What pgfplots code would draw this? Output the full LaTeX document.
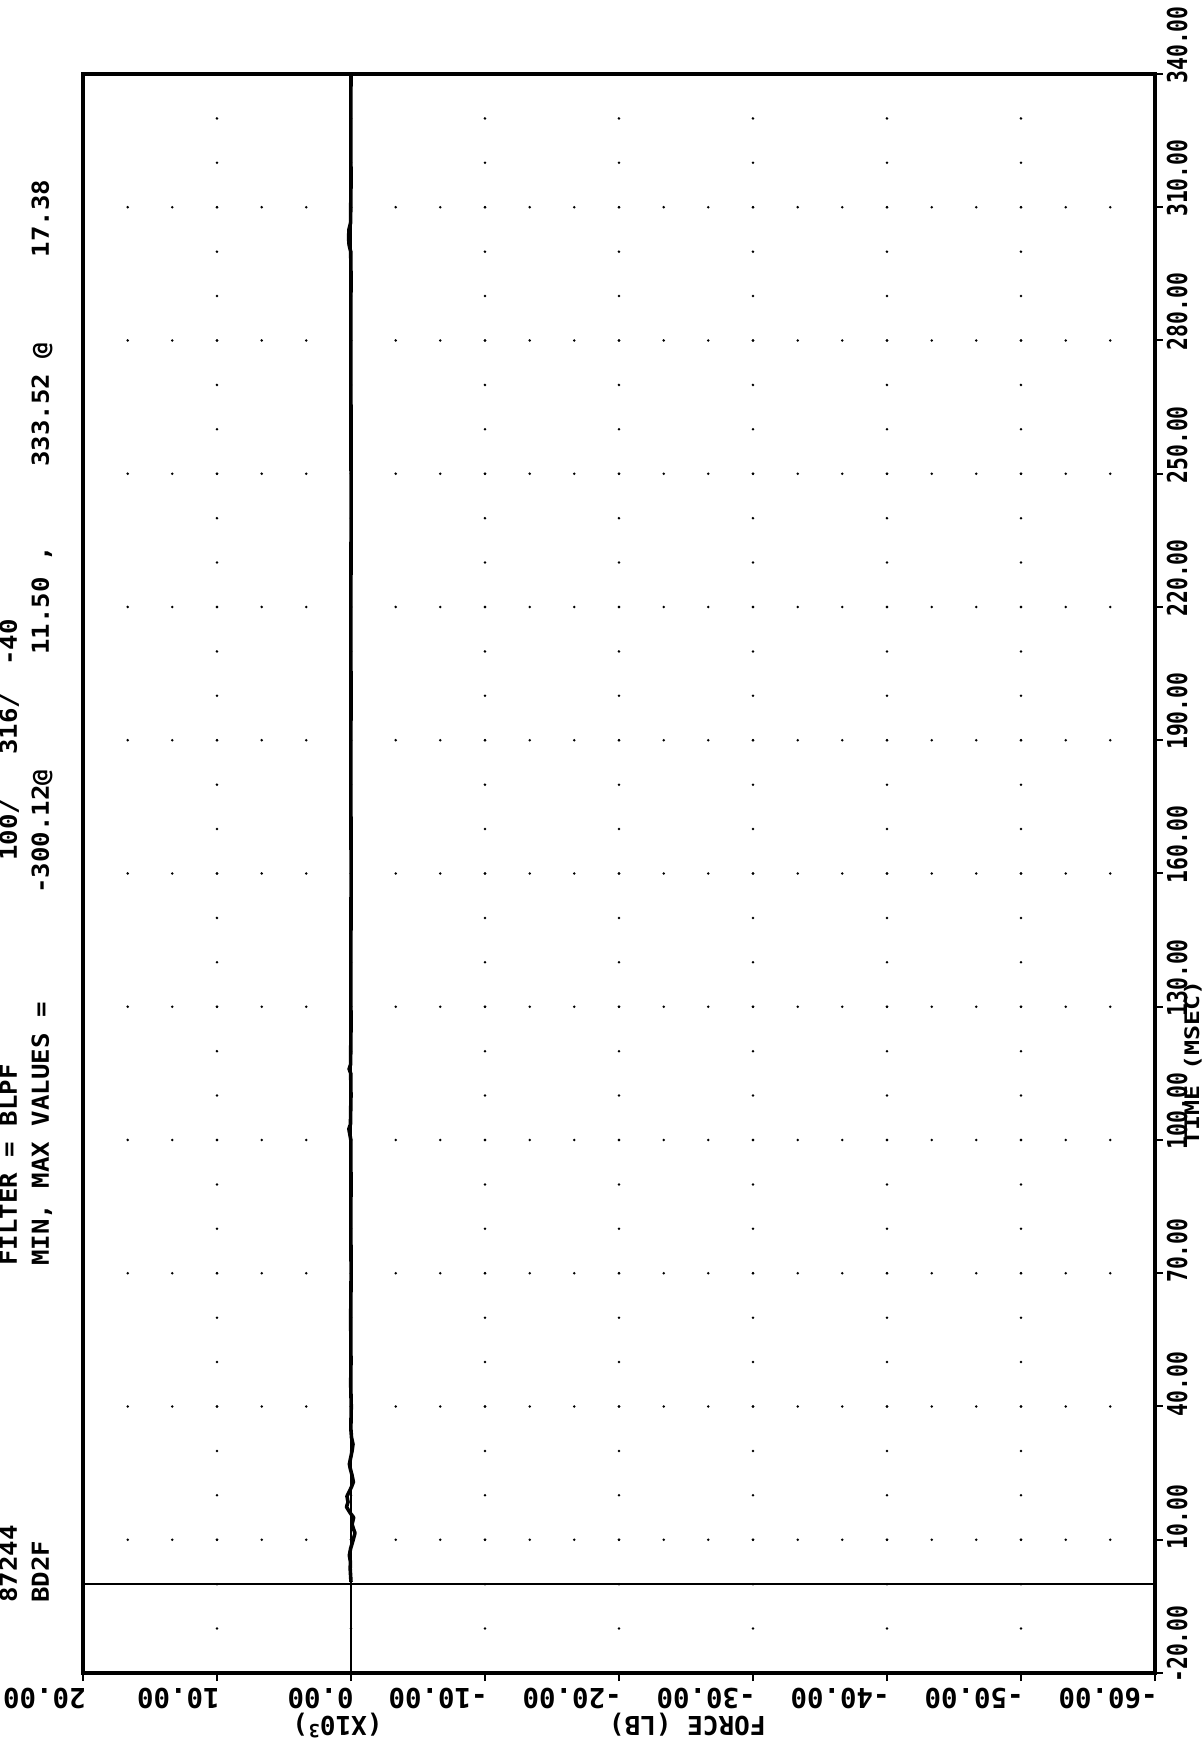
\documentclass[border=0pt]{standalone}
\usepackage{fontspec}
\usepackage{pgfplots}
\pgfplotsset{compat=1.18}
\newfontfamily\tickfont{DejaVu Sans Mono}
\newfontfamily\timefont[FakeStretch=0.78]{DejaVu Sans Mono}
\newfontfamily\infofont[FakeStretch=1.1]{DejaVu Sans Mono}
\newfontfamily\labfont[FakeStretch=1.25]{DejaVu Sans Mono}
\pgfplotstableread{
t f
0.5 0.00
2 0.03
3.5 0.06
5 0.04
6.5 0.12
8 0.03
9.5 -0.12
11.5 -0.30
12.5 -0.18
13.5 -0.08
15 -0.20
16 0.05
17.38 0.3335
18.5 0.22
19.8 0.30
21 0.10
22 -0.05
23 -0.18
24.5 -0.08
26 0.05
27 0.12
28.5 0.02
30 -0.08
31.5 -0.15
33 -0.04
35 0.01
40 -0.02
45 0.02
50 0.00
60 0.02
70 -0.01
80 0.01
90 0.00
100 0.01
101.5 0.10
102.5 0.16
103.5 0.04
110 0.00
115 0.02
116 0.14
117 0.03
125 0.00
140 0.01
160 -0.01
180 0.01
200 0.00
220 0.01
240 -0.01
260 0.00
280 0.01
295 0.00
300 0.02
301.5 0.14
303 0.18
305 0.15
306.5 0.03
315 0.00
330 0.01
340 0.00
}\trace
\begin{document}
\begin{tikzpicture}[x=1pt,y=1pt]
\useasboundingbox (-41.5,-34.5) rectangle (560.5,836.5);
\begin{axis}[
  at={(0,0)}, anchor=south west,
  scale only axis, width=536pt, height=799.5pt,
  x dir=reverse, xmin=-60, xmax=20, ymin=-20, ymax=340,
  xtick={-60,-50,...,20}, ytick={-20,10,...,340},
  xticklabels={}, yticklabels={},
  xtick pos=left, ytick pos=right,
  tick align=outside, major tick length=4pt,
  tick style={black, line width=1pt},
  axis line style={black, line width=1.6pt},
  grid=major,
  major x grid style={black, line width=1.4pt, line cap=round, dash pattern=on 0pt off 22.2083pt},
  major y grid style={black, line width=1.4pt, line cap=round, dash pattern=on 0pt off 22.3333pt},
]
\addplot[black, line width=1pt] coordinates {(0,-20) (0,340)};
\addplot[black, line width=1pt] coordinates {(-60,0) (20,0)};
\addplot[black, line width=1.8pt, line join=round] table[x=f, y=t] {\trace};
\end{axis}
% force tick labels (upside down)
\foreach \f/\lab in {20/20.00, 10/10.00, 0/0.00, -10/-10.00, -20/-20.00, -30/-30.00, -40/-40.00, -50/-50.00, -60/-60.00}{
  \node[rotate=180, anchor=base west, inner sep=0pt, font=\tickfont\bfseries\fontsize{13.7}{16}\selectfont]
    at ({(20-\f)*6.7+1.5}, -7.5) {\lab};
}
% time tick labels (rotated)
\foreach \t/\lab in {-20/-20.00, 10/10.00, 40/40.00, 70/70.00, 100/100.00, 130/130.00, 160/160.00, 190/190.00, 220/220.00, 250/250.00, 280/280.00, 310/310.00, 340/340.00}{
  \node[rotate=90, anchor=base west, inner sep=0pt, font=\timefont\bfseries\fontsize{13.7}{16}\selectfont]
    at (552, {(\t+20)*2.2208333-5}) {\lab};
}
% axis labels
\node[rotate=180, anchor=base west, inner sep=0pt, font=\tickfont\bfseries\fontsize{13}{16}\selectfont]
  at (341.5, -21.5) {FORCE (LB)};
\node[rotate=180, anchor=base west, inner sep=0pt, font=\tickfont\bfseries\fontsize{13}{16}\selectfont]
  at (150, -21.5) {(X10\textsuperscript{3})};
\node[rotate=90, anchor=base west, inner sep=0pt, font=\labfont\bfseries\fontsize{10}{12}\selectfont]
  at (558, 263.5) {TIME (MSEC)};
% header information
\begin{scope}[every node/.style={rotate=90, anchor=base west, inner sep=0pt, font=\infofont\bfseries\fontsize{11.7}{14}\selectfont}]
\node at (-33, 35) {87244};
\node at (-33, 203.5) {FILTER = BLPF};
\node at (-33, 406) {100/};
\node at (-33, 459) {316/};
\node at (-33, 503.5) {-40};
\node at (-17, 35) {BD2F};
\node at (-17, 203.5) {MIN, MAX VALUES =};
\node at (-17, 389.5) {-300.12@};
\node at (-17, 509) {11.50 ,};
\node at (-17, 603) {333.52 @};
\node at (-17, 707.6) {17.38};
\end{scope}
\end{tikzpicture}
\end{document}
